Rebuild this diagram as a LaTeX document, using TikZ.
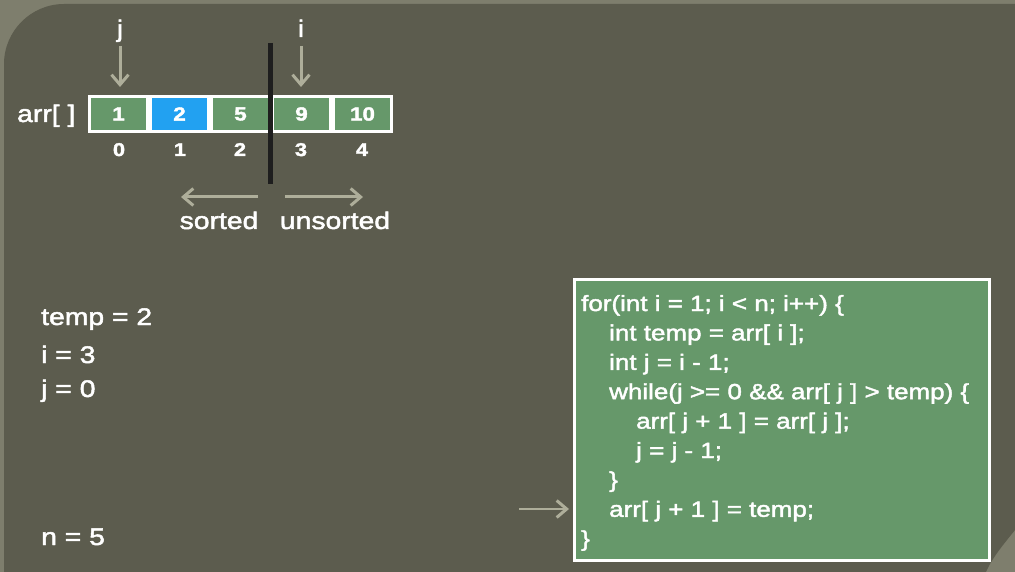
\documentclass[tikz,border=0pt]{standalone}
\usepackage{fontspec}
\setmainfont[FakeStretch=1.18, FakeBold=2]{Liberation Sans}
\usetikzlibrary{arrows.meta}
\definecolor{outerbg}{HTML}{7E7E6D}
\definecolor{panelbg}{HTML}{5C5C4E}
\definecolor{cellgreen}{HTML}{66986A}
\definecolor{cellblue}{HTML}{22A1F1}
\definecolor{arrgray}{HTML}{AEAE9A}
\definecolor{barblack}{HTML}{1E1E1E}
\tikzset{
  cellbox/.style={draw=white, line width=3pt, fill=cellgreen, minimum width=58pt, minimum height=35pt, inner sep=0pt, anchor=center, text=white, font=\fontsize{19}{20}\selectfont\bfseries},
  idxlab/.style={anchor=base, text=white, inner sep=0pt, font=\fontsize{18.5}{20}\selectfont\bfseries},
  biglab/.style={text=white, inner sep=0pt, font=\fontsize{24}{28}\selectfont},
  codeline/.style={anchor=base west, text=white, inner sep=0pt, font=\fontsize{22}{26}\selectfont},
  grayarrow/.style={draw=arrgray, line width=3pt, -{Straight Barb[length=10pt,width=17pt,line width=3pt]}},
}
\begin{document}
\begin{tikzpicture}[x=1pt,y=-1pt]
\useasboundingbox (0,0) rectangle (1015,572);
% background
\fill[outerbg] (0,0) rectangle (1015,572);
\fill[panelbg] (4,572) -- (4,64) .. controls (4,31) and (31,4) .. (64,4) -- (1015,4) -- (1015,530)
  .. controls (1003,545) and (992,558) .. (986,572) -- cycle;
% array
\node[biglab, anchor=base west] (arrlab) at (17,122) {arr[ ]};
\node[cellbox] (c0) at (118.5,114) {1};
\node[cellbox, fill=cellblue] (c1) at (179.5,114) {2};
\node[cellbox] (c2) at (240.5,114) {5};
\node[cellbox] (c3) at (301.5,114) {9};
\node[cellbox] (c4) at (362.5,114) {10};
\node[idxlab] (i0) at (119,156) {0};
\node[idxlab] (i1) at (180,156) {1};
\node[idxlab] (i2) at (240,156) {2};
\node[idxlab] (i3) at (301,156) {3};
\node[idxlab] (i4) at (362,156) {4};
% pointers
\node[biglab, anchor=base] (jlab) at (120,37) {j};
\node[biglab, anchor=base] (ilab) at (301,37) {i};
\coordinate (jtip) at (120,87);
\coordinate (itip) at (301,87);
\draw[grayarrow] (120,46) -- (jtip);
\draw[grayarrow] (301,46) -- (itip);
% separator bar
\coordinate (bartop) at (270,43);
\coordinate (barbot) at (270,184);
\draw[barblack, line width=5pt] (bartop) -- (barbot);
% sorted / unsorted
\coordinate (sl0) at (258,197);
\coordinate (sl1) at (181,197);
\coordinate (ur0) at (285,197);
\coordinate (ur1) at (363,197);
\draw[grayarrow] (sl0) -- (sl1);
\draw[grayarrow] (ur0) -- (ur1);
\node[biglab, anchor=base] (sorted) at (219,229) {sorted};
\node[biglab, anchor=base] (unsorted) at (335,229) {unsorted};
% variables
\node[biglab, anchor=base west] (vtemp) at (41,325) {temp = 2};
\node[biglab, anchor=base west] (vi) at (41,363) {i = 3};
\node[biglab, anchor=base west] (vj) at (41,397) {j = 0};
\node[biglab, anchor=base west] (vn) at (41,545) {n = 5};
% code box
\node[draw=white, line width=3pt, fill=cellgreen, minimum width=415pt, minimum height=281pt, anchor=center, inner sep=0pt] (code) at (782,420) {};
\node[codeline] (l1) at (581,311) {for(int i = 1; i < n; i++) \{};
\node[codeline] (l2) at (609,340.4) {int temp = arr[ i ];};
\node[codeline] (l3) at (609,369.8) {int j = i - 1;};
\node[codeline] (l4) at (609,399.2) {while(j >= 0 \&\& arr[ j ] > temp) \{};
\node[codeline] (l5) at (636,428.6) {arr[ j + 1 ] = arr[ j ];};
\node[codeline] (l6) at (636,458) {j = j - 1;};
\node[codeline] (l7) at (609,487.4) {\}};
\node[codeline] (l8) at (609,516.8) {arr[ j + 1 ] = temp;};
\node[codeline] (l9) at (581,546.2) {\}};
\coordinate (ptr) at (519,509);
\draw[grayarrow, line width=2.5pt] (ptr) -- ([xshift=-4pt]code.west |- ptr);
\end{tikzpicture}
\end{document}
